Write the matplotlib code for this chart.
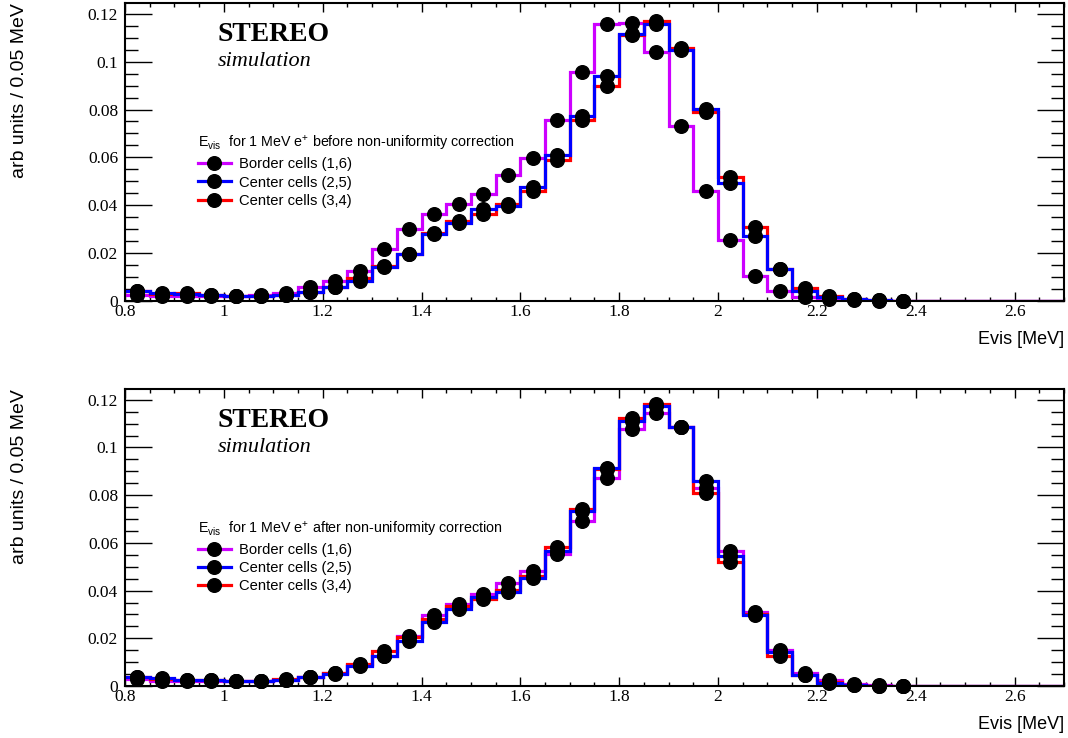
import matplotlib
matplotlib.use("Agg")
import matplotlib.pyplot as plt
import numpy as np
from matplotlib.ticker import MultipleLocator, FormatStrFormatter

plt.rcParams['mathtext.fontset'] = 'custom'
plt.rcParams['mathtext.rm'] = 'Liberation Sans'
plt.rcParams['mathtext.it'] = 'Liberation Sans:italic'

#%% data: bin contents, 0.05 MeV bins starting at 0.8 MeV (markers up to 2.375 MeV)
bin_lo = 0.8
bin_w = 0.05
n_bins_total = 38  # 0.8 -> 2.7

border_before = [0.0025, 0.0020, 0.0020, 0.0020, 0.0019, 0.0024, 0.0034, 0.0058,
                 0.0083, 0.0126, 0.0218, 0.0300, 0.0365, 0.0404, 0.0449, 0.0525,
                 0.0597, 0.0757, 0.0956, 0.1158, 0.1163, 0.1039, 0.0733, 0.0460,
                 0.0254, 0.0104, 0.0042, 0.0018, 0.0008, 0.0003, 0.0001, 0.0000]
center25_before = [0.0042, 0.0033, 0.0030, 0.0025, 0.0022, 0.0021, 0.0025, 0.0036,
                   0.0057, 0.0083, 0.0143, 0.0196, 0.0280, 0.0326, 0.0386, 0.0396,
                   0.0476, 0.0611, 0.0772, 0.0942, 0.1115, 0.1157, 0.1050, 0.0803,
                   0.0495, 0.0270, 0.0132, 0.0043, 0.0018, 0.0007, 0.0003, 0.0001]
center34_before = [0.0040, 0.0030, 0.0033, 0.0026, 0.0022, 0.0022, 0.0027, 0.0038,
                   0.0060, 0.0095, 0.0145, 0.0198, 0.0285, 0.0334, 0.0365, 0.0407,
                   0.0460, 0.0590, 0.0757, 0.0900, 0.1112, 0.1168, 0.1055, 0.0790,
                   0.0520, 0.0310, 0.0132, 0.0055, 0.0020, 0.0010, 0.0004, 0.0001]

border_after = [0.0028, 0.0022, 0.0020, 0.0020, 0.0019, 0.0020, 0.0027, 0.0038,
                0.0055, 0.0090, 0.0125, 0.0211, 0.0296, 0.0342, 0.0384, 0.0430,
                0.0483, 0.0553, 0.0690, 0.0873, 0.1077, 0.1145, 0.1085, 0.0828,
                0.0565, 0.0311, 0.0152, 0.0056, 0.0025, 0.0008, 0.0003, 0.0001]
center25_after = [0.0039, 0.0032, 0.0027, 0.0025, 0.0021, 0.0021, 0.0025, 0.0037,
                  0.0051, 0.0085, 0.0127, 0.0187, 0.0268, 0.0324, 0.0375, 0.0392,
                  0.0452, 0.0565, 0.0732, 0.0915, 0.1112, 0.1173, 0.1085, 0.0861,
                  0.0546, 0.0296, 0.0141, 0.0046, 0.0012, 0.0005, 0.0002, 0.0001]
center34_after = [0.0036, 0.0030, 0.0026, 0.0024, 0.0021, 0.0021, 0.0028, 0.0036,
                  0.0054, 0.0093, 0.0145, 0.0205, 0.0280, 0.0335, 0.0363, 0.0403,
                  0.0460, 0.0582, 0.0741, 0.0910, 0.1124, 0.1183, 0.1085, 0.0807,
                  0.0518, 0.0300, 0.0124, 0.0045, 0.0015, 0.0006, 0.0002, 0.0001]

labels = ['Border cells (1,6)', 'Center cells (2,5)', 'Center cells (3,4)']
colors = ['#cc00ff', '#0000ff', '#ff0000']
headers = [r'E$_{\rm vis}$  for 1 MeV e$^{+}$ before non-uniformity correction',
           r'E$_{\rm vis}$  for 1 MeV e$^{+}$ after non-uniformity correction']

edges = bin_lo + bin_w * np.arange(n_bins_total + 1)

#%% figure
fig = plt.figure(figsize=(10.68, 7.38), dpi=100)
W, H = 1068., 738.
ax1 = fig.add_axes([125/W, 1-301/H, 939/W, 298/H])
ax2 = fig.add_axes([125/W, 1-686/H, 939/W, 297/H])

panels = [(ax1, [border_before, center25_before, center34_before], headers[0]),
          (ax2, [border_after, center25_after, center34_after], headers[1])]

draw_order = [0, 2, 1]  # magenta, red, blue on top

for ax, series, header in panels:
    handles = [None]*3
    for i in draw_order:
        vals = np.asarray(series[i])
        full = np.concatenate([vals, np.zeros(n_bins_total - len(vals))])
        ax.stairs(full, edges, baseline=None, color=colors[i], lw=2.3, zorder=2)
        centers = edges[:len(vals)] + bin_w/2
        ax.plot(centers, vals, 'o', color='black', ms=9.8, zorder=3, clip_on=False)
        h, = ax.plot([], [], '-o', color=colors[i], lw=2.3, mfc='black', mec='black', ms=9.8)
        handles[i] = h

    ax.set_xlim(0.8, 2.7)
    ax.set_ylim(0, 0.1245)
    ax.xaxis.set_major_locator(MultipleLocator(0.2))
    ax.xaxis.set_minor_locator(MultipleLocator(0.05))
    ax.yaxis.set_major_locator(MultipleLocator(0.02))
    ax.yaxis.set_minor_locator(MultipleLocator(0.005))
    ax.xaxis.set_major_formatter(FormatStrFormatter('%g'))
    ax.yaxis.set_major_formatter(FormatStrFormatter('%g'))
    ax.tick_params(which='both', direction='in', top=True, right=True, width=1.0,
                   labelfontfamily='Liberation Serif', labelsize=12.5)
    ax.xaxis.set_tick_params(which='major', length=6.5, pad=2)
    ax.xaxis.set_tick_params(which='minor', length=3.2)
    ax.yaxis.set_tick_params(which='major', length=19.5, pad=5)
    ax.yaxis.set_tick_params(which='minor', length=9.7)
    for sp in ax.spines.values():
        sp.set_linewidth(1.5)

    ax.set_xlabel('Evis [MeV]', loc='right', fontsize=13, family='Liberation Sans', labelpad=8)

    ax.text(0.099, 0.872, 'STEREO', transform=ax.transAxes, family='Liberation Serif',
            fontweight='bold', fontsize=20, va='baseline')
    ax.text(0.099, 0.788, 'simulation', transform=ax.transAxes, family='Liberation Serif',
            style='italic', fontsize=16, va='baseline')

    leg = ax.legend(handles, labels, title=header, loc='upper left',
                    bbox_to_anchor=(0.078, 0.56), frameon=False,
                    prop={'family': 'Liberation Sans', 'size': 10.6},
                    title_fontproperties={'family': 'Liberation Sans', 'size': 10.3},
                    alignment='left', handlelength=2.2, handletextpad=0.55,
                    labelspacing=0.29, borderpad=0, borderaxespad=0)
    leg._legend_box.sep = 3

for ax in (ax1, ax2):
    pos = ax.get_position()
    fig.text(20/W, pos.y1, 'arb units / 0.05 MeV', rotation=90, ha='center', va='top',
             family='Liberation Sans', fontsize=14)

fig.savefig('out.png', dpi=100)
